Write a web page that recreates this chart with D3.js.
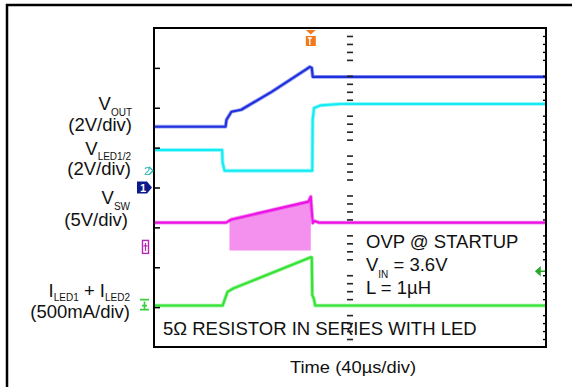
<!DOCTYPE html>
<html>
<head>
<meta charset="utf-8">
<script src="https://cdnjs.cloudflare.com/ajax/libs/d3/7.8.5/d3.min.js"></script>
<style>
  body { margin: 0; background: #fff; }
  text { font-family: "Liberation Sans", Arial, sans-serif; fill: #111; }
</style>
</head>
<body>
<script>
// scope traces, time in µs from left edge of screen
var vout = [[0, 3.05], [73, 3.05], [74, 3.4], [79, 3.8], [89, 3.9], [120, 4.8], [156, 5.95], [159, 6.05], [161, 6.0], [162, 5.55], [400, 5.55]];
var vled = [[0, 1.04], [69.5, 1.04], [70, 0.4], [72, 0.0], [161.5, 0.0], [161.9, 2.55], [163.3, 3.15], [170, 3.28], [190, 3.35], [400, 3.35]];
var vsw = [[0, 3.05], [73.5, 3.05], [79, 3.45], [157.5, 5.68], [160, 6.3], [161, 4.5], [162, 3.0], [164, 3.25], [168, 3.05], [400, 3.05]];
var vswBand = [[77, -0.45, 3.45], [120, -0.45, 4.55], [158, -0.45, 5.75], [160, -0.45, 6.2]]; // switching envelope
var iled = [[0, 0], [70, 0], [75, 170], [81, 215], [157.5, 592], [160, 605], [161, 605], [161.5, 130], [163, 90], [164.5, 0], [400, 0]]; // mA

// channel settings: units per division and ground marker (divisions from bottom)
var channels = [
  { id: 1, perDiv: 2, ground: 4.0 },
  { id: 2, perDiv: 2, ground: 4.42 },
  { id: 3, perDiv: 5, ground: 2.51 },
  { id: 4, perDiv: 500, ground: 1.04 }
];
var triggerTime = 160;   // µs
var triggerLevel = 430;  // mA on ch4

var W = 577, H = 387;
var plot = { left: 154, right: 546, top: 28, bottom: 347 };

var x = d3.scaleLinear().domain([0, 400]).range([plot.left, plot.right]);
var y = d3.scaleLinear().domain([0, 8]).range([plot.bottom, plot.top]);

function yOf(ch, v) { return y(channels[ch - 1].ground + v / channels[ch - 1].perDiv); }

var svg = d3.select("body").append("svg")
    .attr("width", W)
    .attr("height", H);

// outer frame
svg.append("path")
    .attr("d", "M7,387 L7,5 L572,5")
    .attr("fill", "none")
    .attr("stroke", "#000")
    .attr("stroke-width", 2.5);

// labels on the left
var labels = svg.append("g").style("font-size", "18.5px");

function subLabel(yBase, parts, xr) {
  var t = labels.append("text").attr("x", xr).attr("y", yBase).attr("text-anchor", "end");
  parts.forEach(function (p) {
    t.append("tspan")
      .style("font-size", p.sub ? "10px" : "18.5px")
      .attr("dy", p.dy || 0)
      .text(p.t);
  });
}

subLabel(110, [{ t: "V" }, { t: "OUT", sub: true, dy: 6 }], 132);
labels.append("text").attr("x", 132).attr("y", 131).attr("text-anchor", "end").text("(2V/div)");
subLabel(155, [{ t: "V" }, { t: "LED1/2", sub: true, dy: 5 }], 131);
labels.append("text").attr("x", 131).attr("y", 175).attr("text-anchor", "end").text("(2V/div)");
subLabel(204, [{ t: "V" }, { t: "SW", sub: true, dy: 6 }], 130);
labels.append("text").attr("x", 128).attr("y", 226).attr("text-anchor", "end").text("(5V/div)");
subLabel(297, [{ t: "I" }, { t: "LED1", sub: true, dy: 4 }, { t: " + ", dy: -4 }, { t: "I" }, { t: "LED2", sub: true, dy: 4 }], 130);
labels.append("text").attr("x", 130).attr("y", 318).attr("text-anchor", "end").text("(500mA/div)");

svg.append("text")
    .attr("x", 353)
    .attr("y", 373)
    .attr("text-anchor", "middle")
    .attr("textLength", 126)
    .attr("lengthAdjust", "spacingAndGlyphs")
    .style("font-size", "17px")
    .text("Time (40µs/div)");

// annotations inside the screen
var notes = svg.append("g").style("font-size", "18.5px");
notes.append("text").attr("x", 366).attr("y", 248).text("OVP @ STARTUP");
var vin = notes.append("text").attr("x", 366).attr("y", 271);
vin.append("tspan").text("V");
vin.append("tspan").attr("dy", 7).style("font-size", "10px").text("IN");
vin.append("tspan").attr("dy", -7).text(" = 3.6V");
notes.append("text").attr("x", 366).attr("y", 293.5).text("L = 1µH");
notes.append("text").attr("x", 163).attr("y", 335).text("5Ω RESISTOR IN SERIES WITH LED");

// traces
var band = d3.area()
    .x(function (d) { return x(d[0]); })
    .y0(function (d) { return yOf(3, d[1]); })
    .y1(function (d) { return yOf(3, d[2]); });

svg.append("path")
    .datum(vswBand)
    .attr("d", band)
    .attr("fill", "#f490ee");

var traces = [
  { data: vled, ch: 2, color: "#12ecf2" },
  { data: vout, ch: 1, color: "#1f30de" },
  { data: vsw, ch: 3, color: "#ec14e4" },
  { data: iled, ch: 4, color: "#34e234" }
];

traces.forEach(function (tr) {
  var line = d3.line()
      .x(function (d) { return x(d[0]); })
      .y(function (d) { return yOf(tr.ch, d[1]); });
  svg.append("path")
      .datum(tr.data)
      .attr("d", line)
      .attr("fill", "none")
      .attr("stroke", tr.color)
      .attr("stroke-opacity", 0.45)
      .attr("stroke-width", 3.8)
      .attr("stroke-linejoin", "round");
  svg.append("path")
      .datum(tr.data)
      .attr("d", line)
      .attr("fill", "none")
      .attr("stroke", tr.color)
      .attr("stroke-width", 2.1)
      .attr("stroke-linejoin", "round");
});

// graticule: border, major ticks on the left, minor ticks center and right
var minor = d3.range(1, 40).map(function (i) { return i / 5; })
    .filter(function (d) { return Math.abs(d - Math.round(d)) > 0.01; });

svg.append("g")
    .attr("transform", "translate(" + plot.left + ",0)")
    .call(d3.axisLeft(y).tickValues(d3.range(1, 8)).tickSize(-6).tickFormat(""))
    .call(function (g) { g.select(".domain").remove(); })
    .selectAll("line").attr("stroke", "#000").attr("stroke-width", 1.5);

svg.append("g")
    .attr("transform", "translate(" + (x(200) - 3) + ",0)")
    .call(d3.axisLeft(y).tickValues(minor).tickSize(-6).tickFormat(""))
    .call(function (g) { g.select(".domain").remove(); })
    .selectAll("line").attr("stroke", "#222").attr("stroke-width", 1.6);

svg.append("g")
    .attr("transform", "translate(" + plot.right + ",0)")
    .call(d3.axisRight(y).tickValues(minor).tickSize(-3).tickFormat(""))
    .call(function (g) { g.select(".domain").remove(); })
    .selectAll("line").attr("stroke", "#000").attr("stroke-width", 1.4);

svg.append("rect")
    .attr("x", plot.left)
    .attr("y", plot.top)
    .attr("width", plot.right - plot.left)
    .attr("height", plot.bottom - plot.top)
    .attr("fill", "none")
    .attr("stroke", "#000")
    .attr("stroke-width", 2);

// channel ground markers
var g1 = yOf(1, 0), g2 = yOf(2, 0), g3 = yOf(3, 0), g4 = yOf(4, 0);
svg.append("path")
    .attr("d", "M137," + (g1 - 6) + " L147," + (g1 - 6) + " L152," + g1 + " L147," + (g1 + 6) + " L137," + (g1 + 6) + " Z")
    .attr("fill", "#0c1a8e");
svg.append("text")
    .attr("x", 143).attr("y", g1 + 4.5)
    .attr("text-anchor", "middle")
    .style("font-size", "11px").style("font-weight", "bold").style("fill", "#fff")
    .text("1");

svg.append("text")
    .attr("x", 147).attr("y", g2 + 4)
    .attr("text-anchor", "middle")
    .style("font-size", "11px").style("fill", "#22b4b4")
    .text("2");
svg.append("path")
    .attr("d", "M149," + (g2 - 4) + " L153," + g2 + " L149," + (g2 + 4))
    .attr("fill", "none").attr("stroke", "#22b4b4").attr("stroke-width", 1.2);

svg.append("rect")
    .attr("x", 142.5).attr("y", g3 - 6.5).attr("width", 6).attr("height", 13)
    .attr("fill", "none").attr("stroke", "#b428b4").attr("stroke-width", 1.4);
svg.append("path")
    .attr("d", "M145.5," + (g3 - 4) + " L145.5," + (g3 + 4) + " M143.5," + (g3 - 1) + " L147.5," + (g3 - 1))
    .attr("stroke", "#b428b4").attr("stroke-width", 1.2);

svg.append("path")
    .attr("d", "M140," + (g4 - 6) + " L149," + (g4 - 6) + " M144.5," + (g4 - 4) + " L144.5," + (g4 + 4) + " M140," + (g4 + 4) + " L149," + (g4 + 4) + " M142," + g4 + " L147," + g4)
    .attr("stroke", "#3ccf3c").attr("stroke-width", 1.7).attr("fill", "none");

// trigger position and level
var tx = x(triggerTime);
svg.append("path")
    .attr("d", "M" + (tx - 5) + ",30 L" + (tx + 5) + ",30 L" + tx + ",34.5 Z")
    .attr("fill", "#f07a1e");
svg.append("rect")
    .attr("x", tx - 5).attr("y", 36).attr("width", 10).attr("height", 10)
    .attr("fill", "#f07a1e");
svg.append("path")
    .attr("d", "M" + (tx - 3) + ",38 L" + (tx + 1) + ",38 M" + (tx - 1) + ",38 L" + (tx - 1) + ",45")
    .attr("stroke", "#fff").attr("stroke-width", 1.3);

var ty = yOf(4, triggerLevel);
svg.append("path")
    .attr("d", "M536," + ty + " L540," + (ty - 3.5) + " L540," + (ty + 3.5) + " Z M540," + ty + " L545," + ty)
    .attr("fill", "#2aa82a").attr("stroke", "#2aa82a").attr("stroke-width", 1.5);
</script>
</body>
</html>
